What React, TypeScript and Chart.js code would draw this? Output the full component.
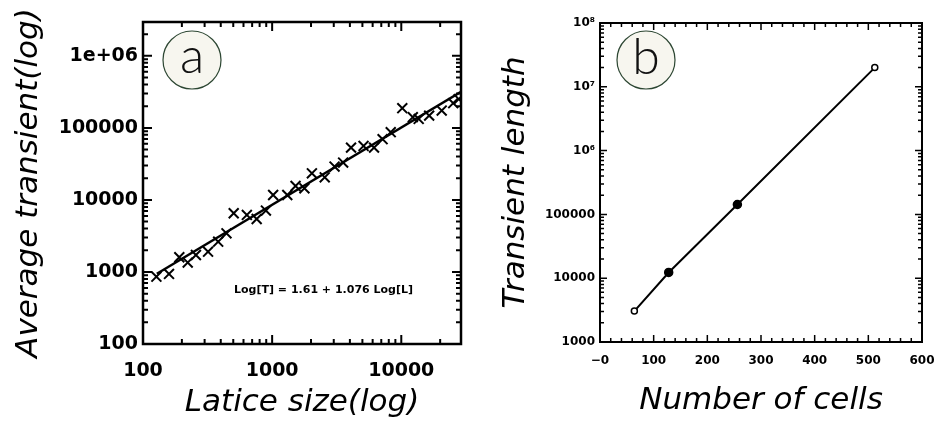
import React, { useEffect, useRef } from 'react';
import { Chart, registerables } from 'chart.js';

Chart.register(...registerables);

// ---------- Panel (a) data ----------
const latticeSize = [127, 159, 191, 222, 257, 319, 382, 443, 504, 637, 759, 895, 1018, 1310, 1518, 1778, 2032, 2554, 3043, 3546, 4083, 5103, 6151, 7166, 8285, 10180, 12280, 13640, 16440, 20560, 25240, 27860];
const avgTransient = [861, 938, 1600, 1350, 1720, 1910, 2630, 3440, 6530, 6190, 5440, 7110, 11700, 11700, 15600, 14500, 23400, 20600, 29000, 33000, 53200, 56200, 53200, 69700, 87100, 188000, 141000, 133000, 148000, 174000, 220000, 251000];
const fitSize = [128, 29000];
const fitTransient = [945, 316000];
const fitLabel = 'Log[T] = 1.61 + 1.076 Log[L]';
const aXTicks = [100, 1000, 10000];
const aXTickLabels = ['100', '1000', '10000'];
const aYTicks = [100, 1000, 10000, 100000, 1000000];
const aYTickLabels = ['100', '1000', '10000', '100000', '1e+06'];

// ---------- Panel (b) data ----------
const numCells = [64, 128, 256, 512];
const transientLength = [3050, 12300, 143000, 20000000];
const bXTicks = [0, 100, 200, 300, 400, 500, 600];
const bXTickLabels = ['\u22120', '100', '200', '300', '400', '500', '600'];
const bYTicks = [1000, 10000, 100000, 1000000, 10000000, 100000000];
const bYTickLabels = ['1000', '10000', '100000', '10\u2076', '10\u2077', '10\u2078'];

const TITLE_FONT = { family: '"DejaVu Sans", sans-serif', size: 31, style: 'italic' as const, weight: '200' as any };

type TickCfg = { tickWidth: number; frameWidth: number; major: number; minor: number; xMinor?: number; xMajor?: number };

function tickValues(scale: any, minorStep?: number, majorStep?: number) {
  const out: { v: number; major: boolean }[] = [];
  const min = Number(scale.min);
  const max = Number(scale.max);
  if (!minorStep) {
    const lo = Math.floor(Math.log10(min));
    const hi = Math.ceil(Math.log10(max));
    for (let e = lo; e <= hi; e++) {
      for (let k = 1; k < 10; k++) {
        const v = k * Math.pow(10, e);
        if (v >= min * 0.9999 && v <= max * 1.0001) out.push({ v, major: k === 1 });
      }
    }
  } else {
    const Ms = majorStep || minorStep * 5;
    for (let v = min; v <= max + 1e-9; v += minorStep) {
      const r = v / Ms;
      out.push({ v, major: Math.abs(r - Math.round(r)) < 1e-6 });
    }
  }
  return out;
}

function makeFrame(cfg: TickCfg) {
  return {
    id: 'frameTicks',
    afterDatasetsDraw(chart: any) {
      const { ctx, chartArea } = chart;
      const { left, right, top, bottom } = chartArea;
      const xs = chart.scales.x;
      const ys = chart.scales.y;
      ctx.save();
      ctx.strokeStyle = '#000';
      ctx.lineWidth = cfg.tickWidth;
      ctx.beginPath();
      for (const t of tickValues(xs, cfg.xMinor, cfg.xMajor)) {
        const p = xs.getPixelForValue(t.v);
        const L = t.major ? cfg.major : cfg.minor;
        ctx.moveTo(p, bottom);
        ctx.lineTo(p, bottom - L);
        ctx.moveTo(p, top);
        ctx.lineTo(p, top + L);
      }
      for (const t of tickValues(ys)) {
        const p = ys.getPixelForValue(t.v);
        const L = t.major ? cfg.major : cfg.minor;
        ctx.moveTo(left, p);
        ctx.lineTo(left + L, p);
        ctx.moveTo(right, p);
        ctx.lineTo(right - L, p);
      }
      ctx.stroke();
      ctx.lineWidth = cfg.frameWidth;
      ctx.strokeRect(left, top, right - left, bottom - top);
      ctx.restore();
    },
  };
}

function makeBadge(letter: string, dx: number, dy: number, r: number, ty: number) {
  return {
    id: 'badge',
    afterDraw(chart: any) {
      const { ctx, chartArea } = chart;
      const cx = chartArea.left + dx;
      const cy = chartArea.top + dy;
      ctx.save();
      ctx.beginPath();
      ctx.arc(cx, cy, r, 0, Math.PI * 2);
      ctx.fillStyle = '#f7f6ef';
      ctx.fill();
      ctx.lineWidth = 1.2;
      ctx.strokeStyle = '#2c4632';
      ctx.stroke();
      ctx.fillStyle = '#111';
      ctx.font = '300 50px "Lato", "Open Sans", sans-serif';
      ctx.textAlign = 'center';
      ctx.textBaseline = 'middle';
      ctx.fillText(letter, cx, cy + ty);
      ctx.restore();
    },
  };
}

function makeNote(text: string, xv: number, yv: number) {
  return {
    id: 'note',
    afterDraw(chart: any) {
      const { ctx } = chart;
      const x = chart.scales.x.getPixelForValue(xv);
      const y = chart.scales.y.getPixelForValue(yv);
      ctx.save();
      ctx.fillStyle = '#000';
      ctx.font = 'bold 11px "DejaVu Sans", sans-serif';
      ctx.textAlign = 'center';
      ctx.textBaseline = 'middle';
      ctx.fillText(text, x, y);
      ctx.restore();
    },
  };
}

function fixedSize(w: number | null, h: number | null) {
  return (s: any) => {
    if (w !== null) s.width = w;
    if (h !== null) s.height = h;
    s.paddingLeft = 0;
    s.paddingRight = 0;
    s.paddingTop = 0;
    s.paddingBottom = 0;
  };
}

export default function App() {
  const aRef = useRef<HTMLCanvasElement>(null);
  const bRef = useRef<HTMLCanvasElement>(null);

  useEffect(() => {
    const tickFontA = { family: '"DejaVu Sans", sans-serif', size: 19, weight: 'bold' as any };
    const chartA = new Chart(aRef.current as HTMLCanvasElement, {
      type: 'scatter',
      data: {
        datasets: [
          {
            label: 'data',
            data: latticeSize.map((x, i) => ({ x, y: avgTransient[i] })),
            pointStyle: 'crossRot',
            pointRadius: 7,
            pointBorderWidth: 2,
            borderColor: '#000',
            backgroundColor: '#000',
            showLine: false,
          },
          {
            label: 'fit',
            data: fitSize.map((x, i) => ({ x, y: fitTransient[i] })),
            showLine: true,
            pointRadius: 0,
            borderColor: '#000',
            borderWidth: 2.5,
          },
        ],
      },
      options: {
        animation: false,
        responsive: false,
        maintainAspectRatio: false,
        layout: { padding: { left: 0, right: 5, top: 22, bottom: 0 } },
        plugins: { legend: { display: false }, tooltip: { enabled: false } },
        scales: {
          x: {
            type: 'logarithmic',
            min: 100,
            max: 29000,
            afterBuildTicks: (s: any) => { s.ticks = aXTicks.map((v) => ({ value: v })); },
            afterFit: fixedSize(null, 83),
            grid: { display: false, drawTicks: false },
            border: { display: false },
            ticks: {
              font: tickFontA, color: '#000', padding: 16, maxRotation: 0, autoSkip: false,
              callback: (v: any) => aXTickLabels[aXTicks.indexOf(Number(v))] ?? '',
            },
            title: { display: true, text: 'Latice size(log)', font: TITLE_FONT, color: '#000', padding: { top: 0, bottom: 5 } },
          },
          y: {
            type: 'logarithmic',
            min: 100,
            max: 2950000,
            afterBuildTicks: (s: any) => { s.ticks = aYTicks.map((v) => ({ value: v })); },
            afterFit: fixedSize(143, null),
            grid: { display: false, drawTicks: false },
            border: { display: false },
            ticks: {
              font: tickFontA, color: '#000', padding: 5, autoSkip: false,
              callback: (v: any) => aYTickLabels[aYTicks.indexOf(Number(v))] ?? '',
            },
            title: { display: true, text: 'Average transient(log)', font: TITLE_FONT, color: '#000', padding: { top: 10, bottom: 0 } },
          },
        },
      },
      plugins: [
        makeFrame({ tickWidth: 2, frameWidth: 2.5, major: 9, minor: 5 }),
        makeBadge('a', 49, 38, 29, -3),
        makeNote(fitLabel, 2500, 560),
      ],
    });

    const tickFontB = { family: '"DejaVu Sans", sans-serif', size: 12, weight: 'bold' as any };
    const chartB = new Chart(bRef.current as HTMLCanvasElement, {
      type: 'scatter',
      data: {
        datasets: [
          {
            label: 'transient',
            data: numCells.map((x, i) => ({ x, y: transientLength[i] })),
            showLine: true,
            borderColor: '#000',
            borderWidth: 2,
            pointRadius: [3, 4, 4, 3],
            pointBorderWidth: 1.5,
            pointBorderColor: '#000',
            pointBackgroundColor: ['#fff', '#000', '#000', '#fff'],
          },
        ],
      },
      options: {
        animation: false,
        responsive: false,
        maintainAspectRatio: false,
        layout: { padding: { left: 0, right: 12, top: 23, bottom: 0 } },
        plugins: { legend: { display: false }, tooltip: { enabled: false } },
        scales: {
          x: {
            type: 'linear',
            min: 0,
            max: 600,
            afterBuildTicks: (s: any) => { s.ticks = bXTicks.map((v) => ({ value: v })); },
            afterFit: fixedSize(null, 85),
            grid: { display: false, drawTicks: false },
            border: { display: false },
            ticks: {
              font: tickFontB, color: '#000', padding: 12, maxRotation: 0, autoSkip: false,
              callback: (v: any) => bXTickLabels[bXTicks.indexOf(Number(v))] ?? '',
            },
            title: { display: true, text: 'Number of cells', font: TITLE_FONT, color: '#000', padding: { top: 0, bottom: 7 } },
          },
          y: {
            type: 'logarithmic',
            min: 1000,
            max: 100000000,
            afterBuildTicks: (s: any) => { s.ticks = bYTicks.map((v) => ({ value: v })); },
            afterFit: fixedSize(130, null),
            grid: { display: false, drawTicks: false },
            border: { display: false },
            ticks: {
              font: tickFontB, color: '#000', padding: 5, autoSkip: false,
              callback: (v: any) => bYTickLabels[bYTicks.indexOf(Number(v))] ?? '',
            },
            title: { display: true, text: 'Transient length', font: TITLE_FONT, color: '#000', padding: { top: 27, bottom: 0 } },
          },
        },
      },
      plugins: [
        makeFrame({ tickWidth: 1.5, frameWidth: 2, major: 7, minor: 4, xMinor: 20, xMajor: 100 }),
        makeBadge('b', 46, 37, 29, -2),
      ],
    });

    return () => {
      chartA.destroy();
      chartB.destroy();
    };
  }, []);

  return (
    <div style={{ position: 'fixed', left: 0, top: 0, width: 934, height: 427, background: '#fff', overflow: 'hidden' }}>
      <canvas ref={aRef} width={470} height={427} style={{ position: 'absolute', left: 0, top: 0 }} />
      <canvas ref={bRef} width={464} height={427} style={{ position: 'absolute', left: 470, top: 0 }} />
    </div>
  );
}
